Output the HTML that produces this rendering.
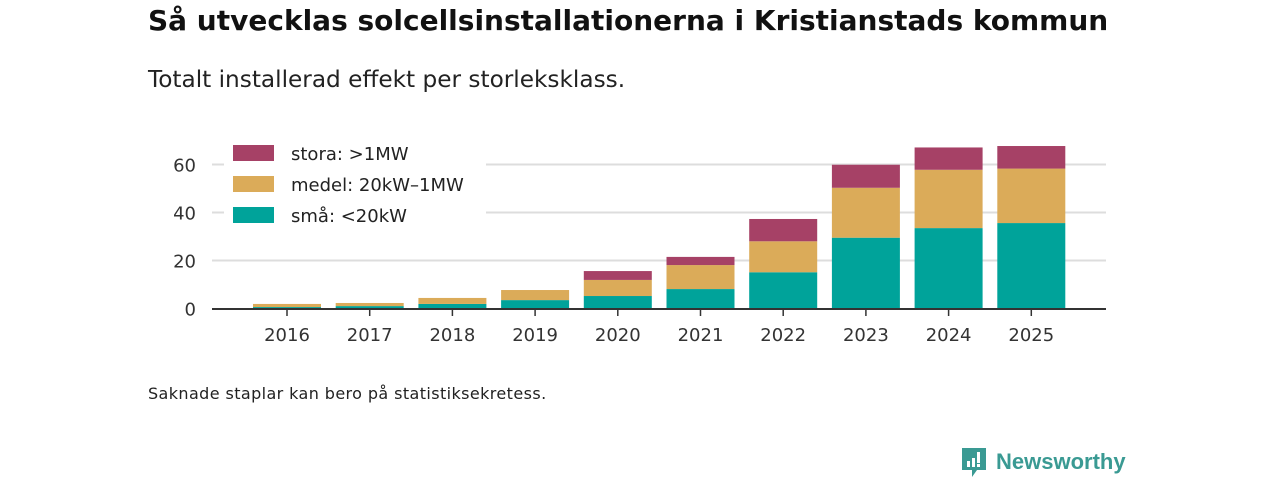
<!DOCTYPE html>
<html><head><meta charset="utf-8"><style>
body{margin:0;width:1280px;height:480px;background:#fff;font-family:"DejaVu Sans","Liberation Sans",sans-serif;overflow:hidden;position:relative}
.t{position:absolute;left:148px;top:4px;font-size:28px;font-weight:bold;color:#111;white-space:nowrap}
.s{position:absolute;left:148px;top:66px;font-size:23.2px;color:#222;white-space:nowrap}
.n{position:absolute;left:148px;top:384px;font-size:16px;letter-spacing:0.4px;color:#222;white-space:nowrap}
.logo{position:absolute;left:960px;top:446px;display:flex;align-items:center;color:#3a9a93;font-size:22px;font-weight:bold;font-family:"Liberation Sans",sans-serif}
</style></head><body>
<div class="t">Så utvecklas solcellsinstallationerna i Kristianstads kommun</div>
<div class="s">Totalt installerad effekt per storleksklass.</div>
<svg id="c" width="1280" height="480" style="position:absolute;left:0;top:0"></svg>
<div class="n">Saknade staplar kan bero på statistiksekretess.</div>
<div class="logo"><svg width="28" height="32" viewBox="0 0 28 32"><path d="M2 2h24v22h-9l-5 7v-7H2z" fill="#3a9a93"/><rect x="7" y="15" width="3" height="6" fill="#fff"/><rect x="12" y="12" width="3" height="9" fill="#fff"/><rect x="17" y="6" width="3" height="11" fill="#fff"/><rect x="17" y="18" width="3" height="3" fill="#fff"/></svg><span style="margin-left:8px">Newsworthy</span></div>
<script>
const years=["2016","2017","2018","2019","2020","2021","2022","2023","2024","2025"];
const sma=[0.6,1.0,1.9,3.5,5.2,8.1,15.1,29.5,33.5,35.6];
const medel=[1.3,1.3,2.5,4.2,6.7,10.0,12.9,20.8,24.3,22.7];
const stora=[0,0,0,0,3.7,3.4,9.3,9.6,9.3,9.4];
const yTicks=[0,20,40,60];
const NS="http://www.w3.org/2000/svg";
const FF='DejaVu Sans, Liberation Sans, sans-serif';
const svg=document.getElementById('c');
const y=v=>308.5-v*2.4;
const x=i=>287+i*82.7;
function mk(t,a){const e=document.createElementNS(NS,t);for(const k in a)e.setAttribute(k,a[k]);svg.appendChild(e);return e;}
yTicks.forEach(v=>{
 if(v>0){const g=mk('line',{x1:212,x2:1106,y1:y(v),y2:y(v),stroke:'#ddd','stroke-width':2});
 
 }
 const t=mk('text',{x:196,y:y(v)+7,'text-anchor':'end','font-size':18,fill:'#333','font-family':FF});t.textContent=v;
 
 
});
const series=[[sma,'#00a39a','sma'],[medel,'#dbab59','medel'],[stora,'#a64166','stora']];
years.forEach((yr,i)=>{
 let base=0;
 series.forEach(([arr,col,nm])=>{
  const v=arr[i];if(v<=0)return;
  const r=mk('rect',{x:x(i)-34,y:y(base+v),width:68,height:y(base)-y(base+v),fill:col});
  
  
  base+=v;
 });
 const tk=mk('line',{x1:x(i),x2:x(i),y1:309,y2:316,stroke:'#333','stroke-width':1.5});
 
 
 const t=mk('text',{x:x(i),y:341,'text-anchor':'middle','font-size':18,fill:'#333','font-family':FF});t.textContent=yr;
 
 
});
const ax=mk('line',{x1:212,x2:1106,y1:309,y2:309,stroke:'#333','stroke-width':2});


const lb=mk('rect',{x:224,y:140,width:262,height:92,fill:'#fff'});


[['stora: >1MW','#a64166'],['medel: 20kW–1MW','#dbab59'],['små: <20kW','#00a39a']].forEach(([l,c],k)=>{
 const r=mk('rect',{x:233,y:145+k*31,width:41,height:16,fill:c});
 
 
 const t=mk('text',{x:291,y:160+k*31,'font-size':18,fill:'#222','font-family':FF});t.textContent=l;
 
 
});
</script>
</body></html>
